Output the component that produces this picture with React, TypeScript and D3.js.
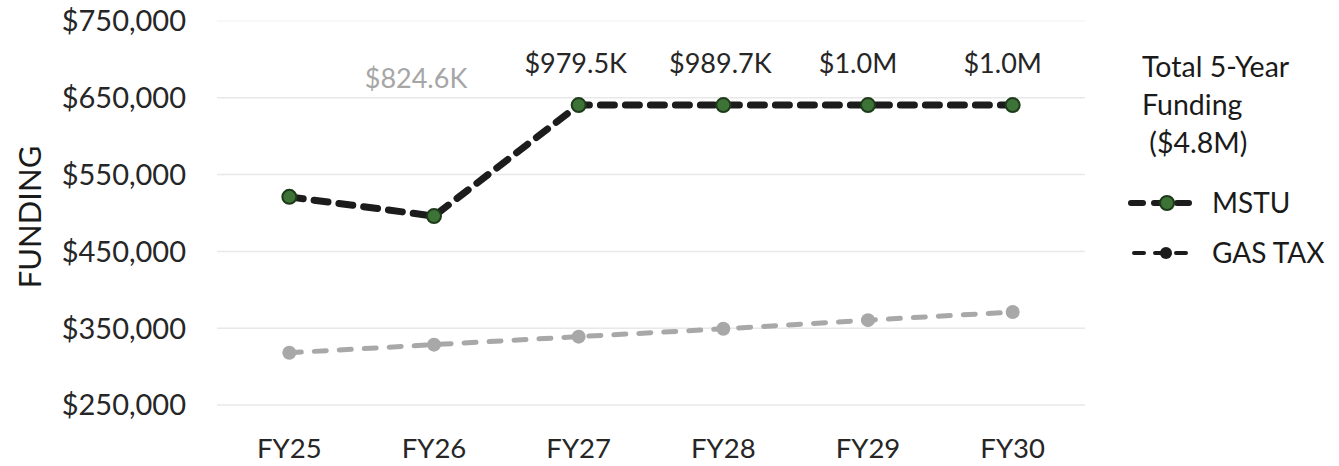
import React from "react";
import * as d3 from "d3";

const categories = ["FY25", "FY26", "FY27", "FY28", "FY29", "FY30"];
const mstu = [521000, 496000, 640500, 640500, 640500, 640500];
const gasTax = [318000, 328600, 339000, 349200, 360500, 371000];
const yTicks = [250000, 350000, 450000, 550000, 650000, 750000];
const totalLabels = ["", "$824.6K", "$979.5K", "$989.7K", "$1.0M", "$1.0M"];
const legendTitle = ["Total 5-Year", "Funding", " ($4.8M)"];
const seriesNames = ["MSTU", "GAS TAX"];

const W = 1339;
const H = 466;
const FONT = "Lato, 'Open Sans', sans-serif";

export default function App() {
  const x = d3.scaleBand().domain(categories).range([217, 1085]);
  const cx = (c: string) => (x(c) as number) + x.bandwidth() / 2;
  const y = d3.scaleLinear().domain([250000, 750000]).range([405, 21]);
  const fmt = d3.format("$,.0f");

  const line = d3
    .line<number>()
    .x((_, i) => cx(categories[i]))
    .y((d) => y(d));

  return (
    <svg
      width={W}
      height={H}
      style={{ position: "absolute", left: 0, top: 0, background: "#fff" }}
      fontFamily={FONT}
    >
      {/* gridlines */}
      {yTicks.map((t) => (
        <line
          key={"g" + t}
          x1={217}
          x2={1085}
          y1={y(t)}
          y2={y(t)}
          stroke={t === 750000 ? "#f6f6f6" : "#e8e8e8"}
          strokeWidth={1.5}
        />
      ))}
      {/* y tick labels */}
      {yTicks.map((t) => (
        <text
          key={"yl" + t}
          x={186}
          y={y(t)}
          dy="0.36em"
          textAnchor="end"
          fontSize={29}
          fill="#262626"
        >
          {fmt(t)}
        </text>
      ))}
      {/* y axis title */}
      <text
        transform={`translate(30,217) rotate(-90)`}
        textAnchor="middle"
        dy="0.36em"
        fontSize={31}
        fill="#1a1a1a"
      >
        FUNDING
      </text>
      {/* x labels */}
      {categories.map((c) => (
        <text
          key={"xl" + c}
          x={cx(c)}
          y={458}
          textAnchor="middle"
          fontSize={27.5}
          fill="#262626"
        >
          {c}
        </text>
      ))}
      {/* GAS TAX line */}
      <path
        d={line(gasTax) || ""}
        fill="none"
        stroke="#a8a8a8"
        strokeWidth={5}
        strokeDasharray="12,13"
        strokeLinecap="round"
      />
      {gasTax.map((v, i) => (
        <circle
          key={"gm" + i}
          cx={cx(categories[i])}
          cy={y(v)}
          r={7}
          fill="#a8a8a8"
        />
      ))}
      {/* MSTU line */}
      <path
        d={line(mstu) || ""}
        fill="none"
        stroke="#1c1c1c"
        strokeWidth={7}
        strokeDasharray="14,11"
        strokeLinecap="round"
      />
      {mstu.map((v, i) => (
        <circle
          key={"mm" + i}
          cx={cx(categories[i])}
          cy={y(v)}
          r={7}
          fill="#3d7336"
          stroke="#1e3a1b"
          strokeWidth={2}
        />
      ))}
      {/* total labels */}
      {totalLabels.map((l, i) =>
        l ? (
          <text
            key={"tl" + i}
            x={cx(categories[i]) + (i === 1 ? -18 : i >= 4 ? -10 : -3)}
            y={i === 1 ? 78 : 63}
            dy="0.36em"
            textAnchor="middle"
            fontSize={27}
            fill={i === 1 ? "#a6a6a6" : "#262626"}
          >
            {l}
          </text>
        ) : null
      )}
      {/* legend */}
      {legendTitle.map((t, i) => (
        <text
          key={"lt" + i}
          x={1142}
          y={67 + i * 38}
          dy="0.36em"
          fontSize={28.5}
          fill="#1a1a1a"
          style={{ whiteSpace: "pre" }}
        >
          {t}
        </text>
      ))}
      {/* MSTU legend */}
      <line
        x1={1131}
        x2={1199}
        y1={203}
        y2={203}
        stroke="#1c1c1c"
        strokeWidth={6}
        strokeDasharray="12,11"
        strokeLinecap="round"
      />
      <circle cx={1167} cy={203} r={7} fill="#3d7336" stroke="#1e3a1b" strokeWidth={2} />
      <text x={1212} y={203} dy="0.36em" fontSize={28} fill="#1a1a1a">
        {seriesNames[0]}
      </text>
      {/* GAS TAX legend */}
      <line
        x1={1134}
        x2={1196}
        y1={253}
        y2={253}
        stroke="#1c1c1c"
        strokeWidth={4}
        strokeDasharray="10,11"
        strokeLinecap="round"
      />
      <circle cx={1166} cy={253} r={6} fill="#1c1c1c" />
      <text x={1212} y={253} dy="0.36em" fontSize={28} fill="#1a1a1a">
        {seriesNames[1]}
      </text>
    </svg>
  );
}
